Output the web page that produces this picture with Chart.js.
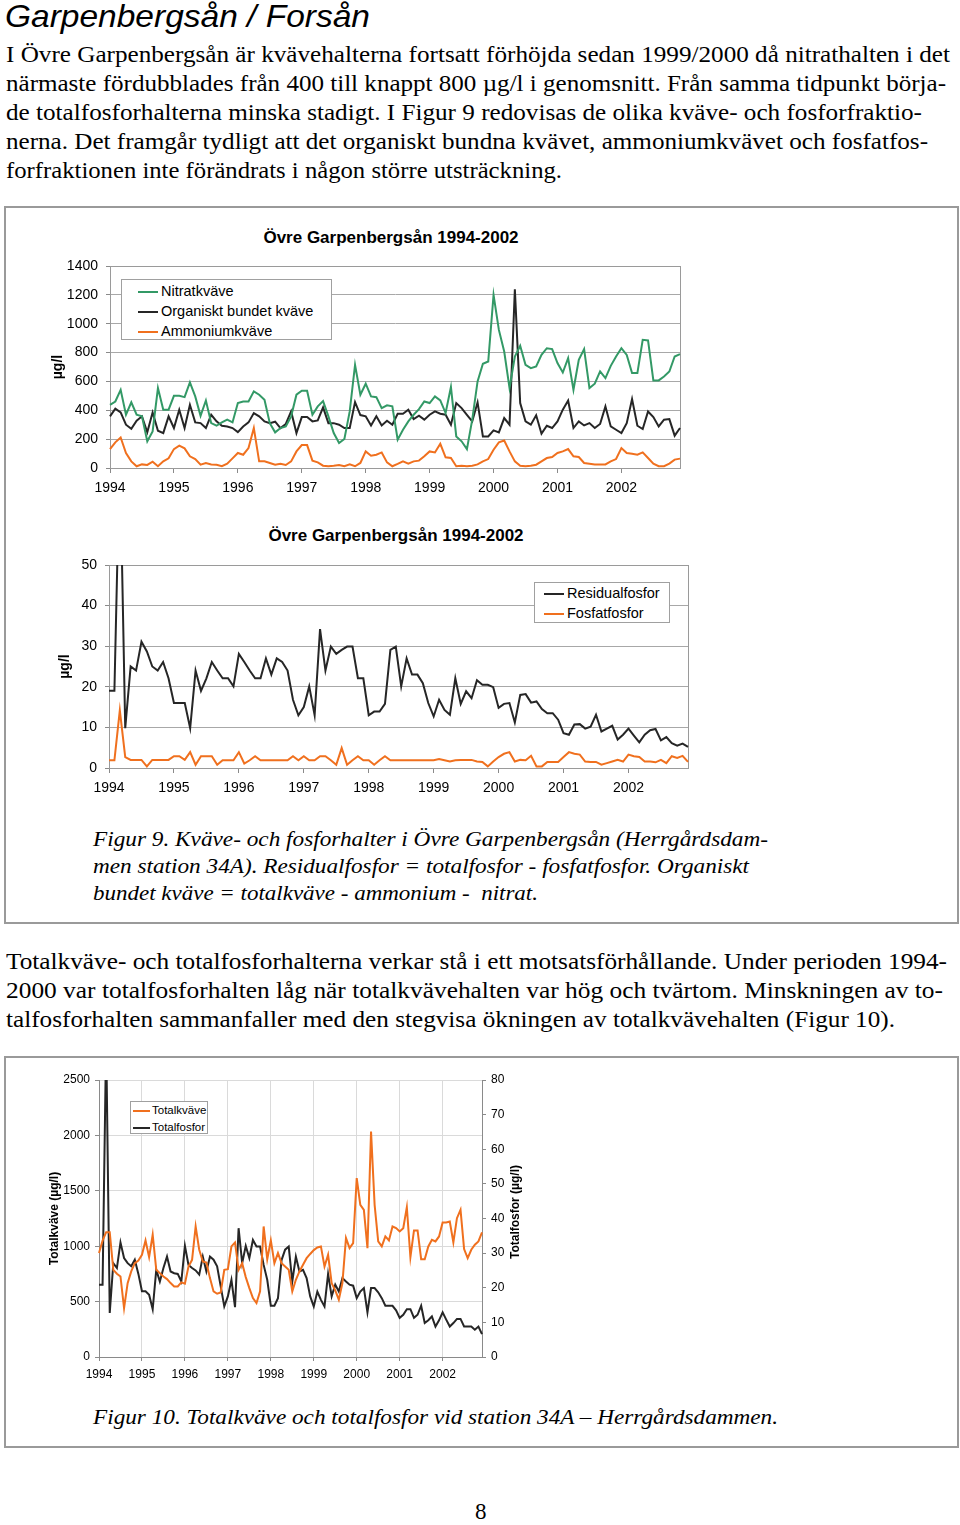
<!DOCTYPE html>
<html lang="sv">
<head>
<meta charset="utf-8">
<title>Garpenbergsån / Forsån</title>
<script src="https://cdn.jsdelivr.net/npm/chart.js@4.4.1/dist/chart.umd.min.js"></script>
<style>
  body { margin: 0; background: #fff; }
  .page { position: relative; width: 960px; height: 1525px; overflow: hidden; background: #fff; }
  .ln {
    position: absolute; display: inline-block; white-space: pre; transform-origin: left center;
    font-family: 'Liberation Serif', 'Times New Roman', serif; font-size: 23px; line-height: 29px; color: #000;
  }
  .ln.cap { font-style: italic; font-size: 22px; line-height: 27px; }
  .heading {
    position: absolute; left: 5px; top: -3px; white-space: pre; transform-origin: left center;
    font-family: 'Liberation Sans', Arial, sans-serif; font-style: italic; font-size: 32px; line-height: 38px;
  }
  .box { position: absolute; left: 4px; width: 951px; border: 2px solid #9a9a9a; }
  canvas { position: absolute; }
  .chart-title {
    position: absolute; width: 400px; margin-left: -200px; text-align: center;
    font-family: 'Liberation Sans', Arial, sans-serif; font-weight: bold; font-size: 17px; line-height: 20px;
  }
  .legend {
    position: absolute; background: #fff; border: 1px solid #a0a0a0;
    font-family: 'Liberation Sans', Arial, sans-serif; color: #000; box-sizing: border-box;
  }
  .legend-row { white-space: nowrap; }
  .legend-line { display: inline-block; vertical-align: middle; height: 2px; }
  .axis-right {
    position: absolute; font-family: 'Liberation Sans', Arial, sans-serif; font-weight: bold; font-size: 12px;
    writing-mode: vertical-rl; transform: rotate(180deg); white-space: nowrap;
  }
  .pageno { position: absolute; left: 475px; top: 1499px; font-family: 'Liberation Serif', serif; font-size: 23px; }
</style>
</head>
<body>
<div class="page">
  <div class="heading" data-w="365">Garpenbergsån / Forsån</div>

  <div class="ln" style="left:6px;top:40px" data-w="944">I Övre Garpenbergsån är kvävehalterna fortsatt förhöjda sedan 1999/2000 då nitrathalten i det</div>
  <div class="ln" style="left:6px;top:69px" data-w="940">närmaste fördubblades från 400 till knappt 800 µg/l i genomsnitt. Från samma tidpunkt börja-</div>
  <div class="ln" style="left:6px;top:98px" data-w="916">de totalfosforhalterna minska stadigt. I Figur 9 redovisas de olika kväve- och fosforfraktio-</div>
  <div class="ln" style="left:6px;top:127px" data-w="922">nerna. Det framgår tydligt att det organiskt bundna kvävet, ammoniumkvävet och fosfatfos-</div>
  <div class="ln" style="left:6px;top:156px" data-w="556">forfraktionen inte förändrats i någon större utsträckning.</div>

  <div class="box" style="top:206px;height:714px"></div>
  <div class="chart-title" style="left:391px;top:228px">Övre Garpenbergsån 1994-2002</div>
  <canvas id="chart-nitrogen" width="722" height="290" style="left:30px;top:220px"></canvas>
  <div class="legend" id="legend-nitrogen" style="left:121px;top:279px;width:211px;height:61px;font-size:14.5px;line-height:20px;padding-top:1px"></div>
  <div class="chart-title" style="left:396px;top:526px">Övre Garpenbergsån 1994-2002</div>
  <canvas id="chart-phosphorus" width="732" height="285" style="left:30px;top:518px"></canvas>
  <div class="legend" id="legend-phosphorus" style="left:534px;top:582px;width:136px;height:41px;font-size:14.5px;line-height:20px;padding-top:0"></div>

  <div class="ln cap" style="left:93px;top:825px" data-w="675">Figur 9. Kväve- och fosforhalter i Övre Garpenbergsån (Herrgårdsdam-</div>
  <div class="ln cap" style="left:93px;top:852px" data-w="656">men station 34A). Residualfosfor = totalfosfor - fosfatfosfor. Organiskt</div>
  <div class="ln cap" style="left:93px;top:879px" data-w="445">bundet kväve = totalkväve - ammonium -  nitrat.</div>

  <div class="ln" style="left:6px;top:947px" data-w="941">Totalkväve- och totalfosforhalterna verkar stå i ett motsatsförhållande. Under perioden 1994-</div>
  <div class="ln" style="left:6px;top:976px" data-w="937">2000 var totalfosforhalten låg när totalkvävehalten var hög och tvärtom. Minskningen av to-</div>
  <div class="ln" style="left:6px;top:1005px" data-w="889">talfosforhalten sammanfaller med den stegvisa ökningen av totalkvävehalten (Figur 10).</div>

  <div class="box" style="top:1056px;height:388px"></div>
  <canvas id="chart-total" width="520" height="325" style="left:30px;top:1065px"></canvas>
  <div class="legend" id="legend-total" style="left:130px;top:1101px;width:78px;height:33px;font-size:11.5px;line-height:16.7px;padding-top:0"></div>
  <div class="axis-right" style="left:508px;top:1165px">Totalfosfor (µg/l)</div>

  <div class="ln cap" style="left:93px;top:1403px" data-w="685">Figur 10. Totalkväve och totalfosfor vid station 34A – Herrgårdsdammen.</div>

  <div class="pageno">8</div>
</div>

<script>
// Tick labels and categories
const years = ['1994', '1995', '1996', '1997', '1998', '1999', '2000', '2001', '2002'];
const months = ['01', '02', '03', '04', '05', '06', '07', '08', '09', '10', '11', '12'];
const monthLabels = years.flatMap((y) => months.map((m) => `${y}-${m}`));

// Figur 9, upper chart (µg/l)
const nitratkvave = [
  438, 461, 542, 369, 455, 369, 358, 185, 254, 554, 404, 404,
  500, 500, 491, 593, 496, 362, 468, 311, 293, 316, 335, 316,
  450, 461, 461, 531, 508, 473, 311, 247, 277, 288, 358, 508,
  535, 535, 369, 427, 464, 358, 242, 173, 201, 392, 715, 508,
  584, 496, 491, 415, 434, 427, 196, 265, 323, 369, 408, 461,
  450, 496, 468, 381, 561, 219, 185, 131, 335, 600, 722, 738,
  1200, 957, 807, 554, 773, 847, 715, 692, 704, 784, 830, 824,
  727, 662, 761, 542, 750, 824, 554, 584, 669, 623, 708, 773,
  830, 784, 658, 658, 888, 884, 607, 607, 634, 669, 773, 789,
];
const organisktKvave = [
  358, 411, 385, 300, 272, 328, 358, 247, 385, 258, 242, 358,
  277, 404, 277, 438, 316, 311, 277, 369, 323, 293, 288, 277,
  249, 288, 316, 381, 358, 323, 311, 321, 277, 305, 392, 242,
  353, 353, 323, 330, 420, 311, 311, 300, 277, 277, 457, 367,
  358, 295, 358, 295, 328, 300, 376, 376, 404, 339, 362, 335,
  369, 392, 376, 369, 300, 450, 415, 369, 323, 455, 219, 219,
  261, 247, 346, 300, 1239, 450, 323, 300, 365, 238, 293, 277,
  323, 404, 468, 277, 323, 295, 311, 277, 305, 427, 288, 265,
  242, 311, 478, 293, 270, 392, 353, 288, 335, 339, 224, 277,
];
const ammoniumkvave = [
  131, 178, 212, 104, 46, 12, 25, 21, 44, 12, 46, 67,
  131, 155, 136, 81, 62, 23, 35, 25, 23, 12, 30, 67,
  104, 92, 138, 277, 46, 46, 35, 23, 30, 21, 46, 115,
  159, 159, 51, 39, 16, 12, 16, 21, 12, 25, 12, 35,
  115, 85, 92, 108, 39, 12, 28, 46, 30, 46, 51, 81,
  115, 108, 168, 74, 69, 12, 16, 12, 16, 25, 46, 62,
  127, 178, 191, 115, 46, 16, 12, 16, 23, 46, 69, 76,
  104, 115, 131, 81, 76, 35, 30, 25, 25, 25, 46, 62,
  138, 104, 99, 92, 108, 69, 30, 12, 12, 30, 58, 65,
];

// Figur 9, lower chart (µg/l)
const residualfosfor = [
  19, 19, 78, 9.8, 25, 24, 31.1, 28.7, 25, 24, 26.1, 22.1,
  16, 16, 16, 9.8, 24, 19, 22.1, 26.1, 24, 22.1, 22.1, 20.1,
  28.1, 26.1, 24, 22.1, 22.1, 27, 23, 27, 26.1, 24, 16.8, 13,
  15, 20.1, 13, 34.2, 24, 29.9, 28.1, 29.1, 29.9, 29.9, 22.1, 22.1,
  13, 13.9, 13.9, 15.8, 29.1, 29.9, 20.1, 27, 23, 23, 20.9, 16,
  12.7, 16.8, 14.3, 13.1, 22.1, 15.8, 18.9, 17.2, 21.6, 20.5, 20.5, 19.9,
  14.8, 15.8, 16, 11.2, 18, 18.2, 16.1, 16.4, 14.5, 13.5, 13.5, 11.9,
  8.6, 8.2, 10.7, 10.8, 9.7, 10.2, 13.1, 9, 9.7, 10.4, 7, 8.2,
  9.7, 8, 6.3, 8.2, 9.3, 9.6, 6.8, 7.6, 6.1, 5.5, 6, 5.2,
];
const fosfatfosfor = [
  1.9, 1.9, 14.2, 2.7, 2, 2, 2, 0.4, 2, 2, 2, 2,
  2.9, 2.9, 2, 3.9, 0.8, 2.9, 2.9, 2.9, 0.8, 1.9, 1.9, 1.9,
  3.9, 1.1, 1.9, 2.9, 1.9, 1.9, 1.9, 1.9, 1.9, 1.9, 2.9, 1.9,
  2.9, 1.9, 1.9, 2.9, 2.9, 1.9, 0.8, 4.9, 0.8, 1.9, 2.9, 1.9,
  1.9, 0.8, 1.9, 2.9, 1.9, 1.9, 1.9, 1.9, 1.9, 1.9, 1.9, 1.9,
  1.9, 2.2, 1.9, 1.6, 1.9, 2, 2, 2, 1.6, 1.5, 0.4, 1.6,
  2.7, 3.5, 3.9, 1.6, 2, 1.9, 3, 0.4, 0.4, 1.5, 1.5, 1.5,
  2.7, 3.9, 3.5, 3.3, 1.6, 1.5, 1.5, 0.8, 1.2, 1.6, 2, 1.6,
  3.3, 2.9, 2.7, 1.6, 1.6, 1.4, 2, 1.2, 2.9, 2.5, 3, 1.5,
];

// Figur 10 (µg/l)
const totalkvave = [
  938, 1050, 1127, 1127, 787, 751, 727, 442, 667, 772, 847, 871,
  922, 1052, 901, 1103, 787, 757, 727, 703, 667, 637, 637, 673,
  661, 817, 877, 1178, 968, 862, 853, 712, 592, 571, 583, 787,
  793, 998, 1034, 787, 847, 721, 622, 532, 487, 592, 1178, 883,
  1052, 847, 938, 847, 817, 787, 592, 697, 772, 832, 892, 930,
  965, 988, 998, 817, 922, 667, 601, 517, 667, 1073, 982, 1028,
  1614, 1373, 1328, 982, 2034, 1373, 1043, 998, 1088, 1052, 1178, 1163,
  1133, 1163, 1352, 901, 1142, 1142, 883, 883, 998, 1058, 1043, 1088,
  1214, 1214, 1223, 1034, 1253, 1328, 974, 892, 968, 1013, 1043, 1124,
];
const totalfosfor = [
  20.9, 20.9, 92, 12.7, 27.1, 25.7, 33.1, 28.6, 27.1, 26.2, 28.1, 24,
  19, 19, 18, 13.8, 25.2, 21.8, 25.7, 29, 24.7, 24.2, 24, 21.8,
  32.1, 26.6, 25.7, 25, 23.8, 29, 24.7, 29, 28.1, 26.2, 20.4, 14.6,
  17.5, 22.3, 14.4, 37.2, 27.1, 32.1, 28.6, 33.8, 31.9, 31.9, 26.6, 22.3,
  14.8, 14.8, 17, 28, 31, 31.9, 21.8, 29, 24.7, 25.2, 22.8, 17.5,
  14.6, 18.9, 16.5, 14.6, 24, 17.5, 20.9, 18.9, 22.8, 21.8, 20.9, 20.6,
  17, 18.9, 19.9, 12.9, 19.9, 19.9, 18.7, 17, 14.8, 14.8, 14.8, 13.5,
  11.3, 12.2, 13.8, 13.8, 11.3, 12.2, 14.8, 9.8, 10.6, 11.7, 8.8, 10.6,
  12.9, 10.8, 8.8, 9.8, 11, 11, 8.8, 8.8, 8.8, 7.9, 8.8, 6.6,
];

const GREEN = '#339966';
const BLACK = '#262626';
const ORANGE = '#f0701e';

Chart.defaults.font.family = "'Liberation Sans', Arial, sans-serif";
Chart.defaults.color = '#000';

// Gray frame round the plot area
const plotFrame = {
  id: 'plotFrame',
  beforeDatasetsDraw(chart) {
    const { ctx, chartArea: a } = chart;
    ctx.save();
    ctx.strokeStyle = '#9a9a9a';
    ctx.lineWidth = 1;
    ctx.strokeRect(Math.round(a.left) + 0.5, Math.round(a.top) + 0.5, Math.round(a.width), Math.round(a.height));
    ctx.restore();
  },
};

// Show only the january ticks, labelled with the year
const yearTick = (value, index) => (index % 12 === 0 ? years[index / 12] : null);
// Plain numbers, no thousands separator
const plainTick = (value) => String(value);

const line = (label, data, color, yAxisID = 'y') => ({
  label,
  data,
  yAxisID,
  borderColor: color,
  backgroundColor: color,
  borderWidth: 2,
  pointRadius: 0,
  tension: 0,
  fill: false,
});

const baseOptions = {
  responsive: false,
  animation: false,
  events: [],
  plugins: { legend: { display: false }, tooltip: { enabled: false } },
};

const nitrogenChart = new Chart(document.getElementById('chart-nitrogen'), {
  type: 'line',
  data: {
    labels: monthLabels,
    datasets: [
      line('Nitratkväve', nitratkvave, GREEN),
      line('Organiskt bundet kväve', organisktKvave, BLACK),
      line('Ammoniumkväve', ammoniumkvave, ORANGE),
    ],
  },
  options: {
    ...baseOptions,
    layout: { padding: { left: 0, right: 72, top: 46, bottom: 0 } },
    scales: {
      x: {
        grid: { drawOnChartArea: false, color: '#8a8a8a', tickLength: 5 },
        border: { color: '#8a8a8a' },
        ticks: { autoSkip: false, maxRotation: 0, padding: 7, font: { size: 14 }, callback: yearTick },
        afterFit: (s) => { s.height = 42; },
      },
      y: {
        min: 0,
        max: 1400,
        grid: { color: '#a8a8a8', tickColor: '#8a8a8a', tickLength: 4 },
        border: { color: '#8a8a8a' },
        ticks: { stepSize: 200, padding: 8, font: { size: 14 }, callback: plainTick },
        title: { display: true, text: 'µg/l', font: { size: 14, weight: 'bold' }, padding: { top: 19.6, bottom: 0 } },
        afterFit: (s) => { s.width = 80; },
      },
    },
  },
  plugins: [plotFrame],
});

const phosphorusChart = new Chart(document.getElementById('chart-phosphorus'), {
  type: 'line',
  data: {
    labels: monthLabels,
    datasets: [
      line('Residualfosfor', residualfosfor, BLACK),
      line('Fosfatfosfor', fosfatfosfor, ORANGE),
    ],
  },
  options: {
    ...baseOptions,
    layout: { padding: { left: 0, right: 74, top: 47, bottom: 0 } },
    scales: {
      x: {
        grid: { drawOnChartArea: false, color: '#8a8a8a', tickLength: 5 },
        border: { color: '#8a8a8a' },
        ticks: { autoSkip: false, maxRotation: 0, padding: 7, font: { size: 14 }, callback: yearTick },
        afterFit: (s) => { s.height = 35; },
      },
      y: {
        min: 0,
        max: 50,
        grid: { color: '#a8a8a8', tickColor: '#8a8a8a', tickLength: 4 },
        border: { color: '#8a8a8a' },
        ticks: { stepSize: 10, padding: 8, font: { size: 14 }, callback: plainTick },
        title: { display: true, text: 'µg/l', font: { size: 14, weight: 'bold' }, padding: { top: 26.6, bottom: 0 } },
        afterFit: (s) => { s.width = 79; },
      },
    },
  },
  plugins: [plotFrame],
});

const totalChart = new Chart(document.getElementById('chart-total'), {
  type: 'line',
  data: {
    labels: monthLabels,
    datasets: [
      line('Totalkväve', totalkvave, ORANGE, 'y'),
      line('Totalfosfor', totalfosfor, BLACK, 'y1'),
    ],
  },
  options: {
    ...baseOptions,
    layout: { padding: { left: 0, right: 0, top: 15, bottom: 0 } },
    scales: {
      x: {
        grid: { color: '#dadada', tickColor: '#8a8a8a', tickLength: 4 },
        border: { color: '#8a8a8a' },
        ticks: { autoSkip: false, maxRotation: 0, padding: 6, font: { size: 12 }, callback: yearTick },
        afterFit: (s) => { s.height = 33; },
      },
      y: {
        position: 'left',
        min: 0,
        max: 2500,
        grid: { color: '#dadada', tickColor: '#8a8a8a', tickLength: 4 },
        border: { color: '#8a8a8a' },
        ticks: { stepSize: 500, padding: 5, font: { size: 12 }, callback: plainTick },
        title: { display: true, text: 'Totalkväve (µg/l)', font: { size: 12, weight: 'bold' }, padding: { top: 17.8, bottom: 0 } },
        afterFit: (s) => { s.width = 69; },
      },
      y1: {
        position: 'right',
        min: 0,
        max: 80,
        grid: { drawOnChartArea: false, tickColor: '#8a8a8a', tickLength: 4 },
        border: { color: '#8a8a8a' },
        ticks: { stepSize: 10, padding: 5, font: { size: 12 }, callback: plainTick },
        afterFit: (s) => { s.width = 68; },
      },
    },
  },
});

// Legends inside the plot, built from the datasets
const buildLegend = (chart, id, swatchLeft, swatchWidth, gap) => {
  const el = document.getElementById(id);
  chart.data.datasets.forEach((ds) => {
    const row = document.createElement('div');
    row.className = 'legend-row';
    row.style.paddingLeft = `${swatchLeft}px`;
    row.innerHTML = `<span class="legend-line" style="width:${swatchWidth}px;margin-right:${gap}px;background:${ds.borderColor}"></span>${ds.label}`;
    el.appendChild(row);
  });
};

buildLegend(nitrogenChart, 'legend-nitrogen', 16, 20, 3);
buildLegend(phosphorusChart, 'legend-phosphorus', 9, 20, 3);
buildLegend(totalChart, 'legend-total', 2, 17, 2);

// Stretch each text line to the width it has on the printed page
document.querySelectorAll('.ln, .heading').forEach((el) => {
  const natural = el.getBoundingClientRect().width;
  el.style.transform = `scaleX(${Number(el.dataset.w) / natural})`;
});
</script>
</body>
</html>
